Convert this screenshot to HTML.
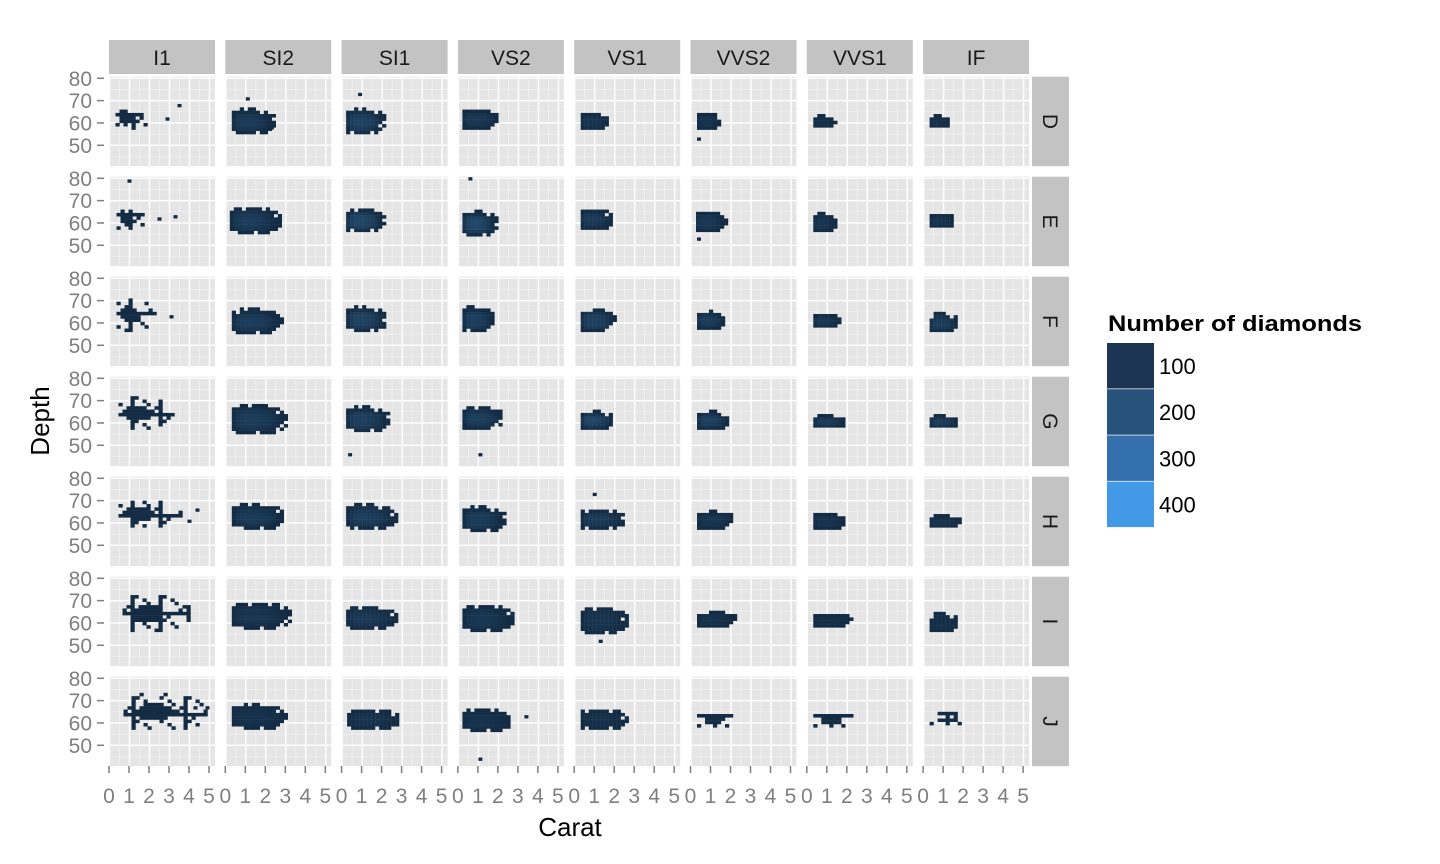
<!DOCTYPE html>
<html><head><meta charset="utf-8"><style>
html,body{margin:0;padding:0;background:#fff}
svg{display:block;font-family:"Liberation Sans",sans-serif}
</style></head><body>
<svg id="chart" width="1440" height="864"></svg>
<script>
const clarities=["I1","SI2","SI1","VS2","VS1","VVS2","VVS1","IF"];
const colors=["D","E","F","G","H","I","J"];
const xTicks=[0,1,2,3,4,5];
const yTicks=[80,70,60,50];
const legendLabels=[100,200,300,400];
// blobs per panel: [caratMin, caratMax, depthMin, depthMax, peakCount, sparse(1/0)] rows D..J, cols I1..IF
const blobs=[
 [[0.3,1.8,57,65,8,1],[0.3,2.4,55,66,180,0],[0.2,2.1,55,66,250,0],[0.2,2.0,57,66,150,0],[0.3,1.6,57,64,110,0],[0.3,1.45,57,64,100,0],[0.3,1.35,58,63,60,0],[0.3,1.3,58,63,40,0]],
 [[0.35,1.9,57,65,10,1],[0.2,2.7,55,67,200,0],[0.2,2.1,56,66,300,0],[0.2,1.9,54,65,330,0],[0.3,1.8,57,66,170,0],[0.25,1.7,56,65,150,0],[0.3,1.35,56,64,120,0],[0.3,1.5,58,64,80,0]],
 [[0.35,2.3,56,70,10,1],[0.3,2.8,55,66,200,0],[0.2,2.2,56,67,260,0],[0.2,1.8,56,67,240,0],[0.3,2.0,56,66,250,0],[0.3,1.65,57,65,200,0],[0.3,1.65,58,64,130,0],[0.3,1.7,56,64,200,0]],
 [[0.45,3.1,57,71,12,1],[0.3,3.0,55,68,200,0],[0.2,2.3,56,67,220,0],[0.2,2.2,57,67,220,0],[0.3,1.9,57,65,300,0],[0.3,1.85,57,65,250,0],[0.3,1.9,58,63,180,0],[0.3,1.7,58,63,180,0]],
 [[0.45,3.5,58,70,12,1],[0.3,2.9,57,68,180,0],[0.2,2.7,57,68,200,0],[0.2,2.3,56,67,200,0],[0.3,2.5,57,66,170,0],[0.3,2.1,57,65,120,0],[0.3,1.9,57,64,100,0],[0.3,1.8,58,63,80,0]],
 [[0.65,4.0,56,72,6,1],[0.3,3.2,57,69,120,0],[0.2,2.7,57,67,150,0],[0.2,2.7,56,68,130,0],[0.3,2.6,55,67,100,0],[0.3,2.2,58,65,80,0],[0.3,2.2,58,64,60,0],[0.3,1.7,56,64,40,0]],
 [[0.7,4.9,57,73,4,1],[0.3,3.0,57,68,80,0],[0.25,2.8,57,66,90,0],[0.2,2.6,56,66,80,0],[0.3,2.6,57,66,60,0],[0.3,2.2,58,64,30,1],[0.3,2.5,58,64,20,1],[0.3,2.5,59,64,15,1]]
];
// stray single bins: [row, col, carat, depth]
const strays=[[0,0,2.8,61],[0,0,3.4,67],[0,1,1.0,70],[0,1,2.2,57],[0,2,0.8,72],[0,5,0.3,52],
 [1,0,0.9,78],[1,0,2.4,61],[1,0,3.2,62],[1,3,0.5,79],[1,5,0.3,52],[2,0,3.0,62],
 [3,2,0.3,45],[3,3,1.0,45],[4,0,4.3,65],[4,0,3.9,60],[4,4,0.9,72],[5,4,1.2,51],
 [6,3,3.3,62],[6,3,1.0,43],[6,0,4.2,66],[6,0,4.8,66]];

const NS="http://www.w3.org/2000/svg";
const svg=document.getElementById('chart');
function mk(tag,attrs,parent){const e=document.createElementNS(NS,tag);for(const k in attrs)e.setAttribute(k,attrs[k]);(parent||svg).appendChild(e);return e;}
const PW=106,PH=89.5,COL0=109,COLSTEP=116.3,ROW0=76.7,ROWSTEP=100;
function px(j,c){return COL0+j*COLSTEP+0.5+20*c;}
function py(i,d){return ROW0+i*ROWSTEP+1.6+(80-d)*2.233;}
function col(t){t=Math.max(0,Math.min(1,t));const a=[19,43,67],b=[86,177,247];return `rgb(${a.map((v,k)=>Math.round(v+(b[k]-v)*t)).join(',')})`;}
const BW=0.2,BH=1.5;

for(let i=0;i<colors.length;i++){
 for(let j=0;j<clarities.length;j++){
  const L=COL0+j*COLSTEP,T=ROW0+i*ROWSTEP;
  const g=mk('g',{});
  
  
  mk('rect',{x:L,y:T,width:PW,height:PH,fill:'#e5e5e5'},g);
  for(let c=0.5;c<5.3;c+=1){const x=px(j,c);if(x<L+PW)mk('line',{x1:x,x2:x,y1:T,y2:T+PH,stroke:'#f2f2f2','stroke-width':0.7},g);}
  for(let d=45;d<=85;d+=10){const y=py(i,d);if(y>T&&y<T+PH)mk('line',{x1:L,x2:L+PW,y1:y,y2:y,stroke:'#f2f2f2','stroke-width':0.7},g);}
  xTicks.forEach(c=>{const x=px(j,c);if(x<=L+PW)mk('line',{x1:x,x2:x,y1:T,y2:T+PH,stroke:'#fff','stroke-width':1.4},g);});
  yTicks.forEach(d=>{const y=py(i,d);mk('line',{x1:L,x2:L+PW,y1:y,y2:y,stroke:'#fff','stroke-width':1.4},g);});
  const b=blobs[i][j];
  const [c0,c1,d0,d1,peak,sparse]=b;
  const dc=(d0+d1)/2;
  const cm=c0+(c1-c0)*0.3;
  for(let c=c0;c<c1-0.01;c+=BW){
   for(let d=d0;d<d1-0.01;d+=BH){
    const u=(c+BW/2-cm)/((c+BW/2<cm)?(cm-c0+0.1):(c1-cm+0.1));
    const v=(d+BH/2-dc)/((d1-d0)/2+0.4);
    const r=Math.pow(Math.abs(u),2.5)+Math.pow(Math.abs(v),2.5);
    if(r>1)continue;
    const ci=Math.round(c/BW),di=Math.round(d/BH);
    if(sparse&&r>0.12&&(((ci*ci*7+di*13+ci*di*3)%7)>1))continue;
    if(!sparse&&r>0.6&&((ci*3+di*2)%5===0))continue;
    const cnt=peak*Math.max(0,1-r*1.6);
    const rc=mk('rect',{x:px(j,c),y:py(i,d+BH),width:20*BW+0.2,height:BH*2.233+0.2,fill:col(cnt/1500)},g);
    
    
   }
  }
 }
}
strays.forEach(s=>{
 const r=mk('rect',{x:px(s[1],s[2]),y:py(s[0],s[3]+BH),width:4,height:3.3,fill:col(0)});
 
 
});
// top strips
clarities.forEach((n,j)=>{
 const L=COL0+j*COLSTEP;
 const g=mk('g',{});
 
 
 mk('rect',{x:L,y:40,width:PW,height:34,fill:'#c3c3c3'},g);
 const t=mk('text',{x:L+PW/2,y:65,'text-anchor':'middle','font-size':21,fill:'#1a1a1a'},g);t.textContent=n;
});
// right strips
colors.forEach((n,i)=>{
 const T=ROW0+i*ROWSTEP;
 const g=mk('g',{});
 
 
 mk('rect',{x:1032,y:T,width:37,height:PH,fill:'#c3c3c3'},g);
 const t=mk('text',{x:0,y:0,'text-anchor':'middle','font-size':21,fill:'#1a1a1a',transform:`translate(1043,${T+PH/2}) rotate(90)`},g);t.textContent=n;
});
// y axis ticks
colors.forEach((n,i)=>{
 yTicks.forEach(d=>{
  const y=py(i,d);
  mk('line',{x1:97,x2:104,y1:y,y2:y,stroke:'#7f7f7f','stroke-width':1.5});
  const t=mk('text',{x:92,y:y+7.5,'text-anchor':'end','font-size':21,fill:'#7f7f7f'});t.textContent=d;
  
 });
});
// x axis ticks
clarities.forEach((n,j)=>{
 xTicks.forEach(c=>{
  const x=px(j,c)-0.5;
  mk('line',{x1:x,x2:x,y1:766,y2:773,stroke:'#7f7f7f','stroke-width':1.5});
  const t=mk('text',{x:x,y:803,'text-anchor':'middle','font-size':21,fill:'#7f7f7f'});t.textContent=c;
  
 });
});
let t=mk('text',{x:570,y:836,'text-anchor':'middle','font-size':26,fill:'#000'});t.textContent='Carat';

t=mk('text',{x:0,y:0,'text-anchor':'middle','font-size':26,fill:'#000',transform:'translate(49,421) rotate(-90)'});t.textContent='Depth';

// legend
const lg=mk('g',{});


t=mk('text',{x:1108,y:331,'font-size':22,'font-weight':'bold',fill:'#000',textLength:254,lengthAdjust:'spacingAndGlyphs'},lg);t.textContent='Number of diamonds';

const legendFill=['#1b3553','#26527b','#3470ad','#4399e5'];
legendLabels.forEach((v,k)=>{
 const y=343+k*46.2;
 const r=mk('rect',{x:1107,y:y,width:47,height:45.5,fill:legendFill[k]},lg);
 
 const tt=mk('text',{x:1159,y:y+31,'font-size':22,fill:'#000'},lg);tt.textContent=v;
});
</script>
</body></html>
